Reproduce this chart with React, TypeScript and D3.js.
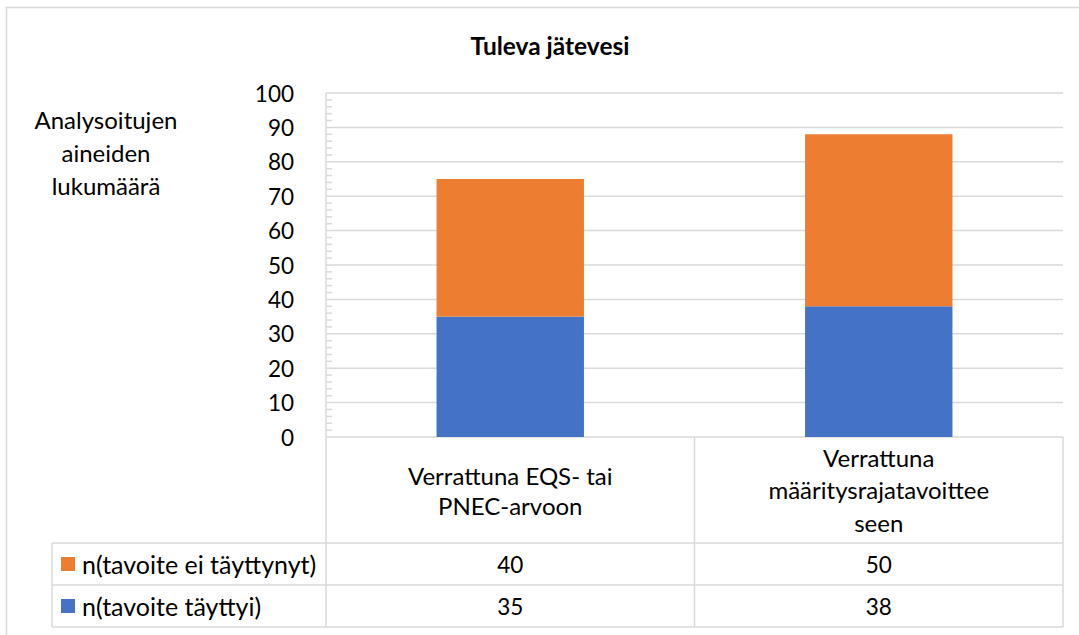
import React from "react";
import * as d3 from "d3";

const categories = ["Verrattuna EQS- tai PNEC-arvoon", "Verrattuna määritysrajatavoitteeseen"];
const categoryLines = [
  ["Verrattuna EQS- tai", "PNEC-arvoon"],
  ["Verrattuna", "määritysrajatavoittee", "seen"],
];
const seriesNames = ["n(tavoite täyttyi)", "n(tavoite ei täyttynyt)"];
const seriesColors = ["#4472C4", "#ED7D31"];
const metValues = [35, 38];
const notMetValues = [40, 50];
const yTicks = [0, 10, 20, 30, 40, 50, 60, 70, 80, 90, 100];
const title = "Tuleva jätevesi";
const yTitleLines = ["Analysoitujen", "aineiden", "lukumäärä"];

const W = 1079;
const H = 635;
const FONT = "Lato, 'Open Sans', sans-serif";
const GRID = "#d9d9d9";
const TXT = 24;
const NUM = 22.5;

export default function App() {
  const plotLeft = 326;
  const plotRight = 1063;
  const plotTop = 93;
  const plotBottom = 437;
  const headerBottom = 543;
  const row1Bottom = 585;
  const row2Bottom = 627;
  const legendLeft = 52;

  const y = d3.scaleLinear().domain([0, 100]).range([plotBottom, plotTop]);
  const x = d3
    .scaleBand<string>()
    .domain(categories)
    .range([plotLeft, plotRight])
    .paddingInner(0.6)
    .paddingOuter(0.3);
  const cell = d3.scaleBand<string>().domain(categories).range([plotLeft, plotRight]).padding(0);

  const stackData = categories.map((c, i) => ({ cat: c, met: metValues[i], notMet: notMetValues[i] }));
  const stacked = d3.stack<any>().keys(["met", "notMet"])(stackData);

  const minorTicks = d3.range(0, 101, 2).filter((v) => v % 10 !== 0);

  const tableRows = [
    { name: seriesNames[1], color: seriesColors[1], values: notMetValues, top: headerBottom, bottom: row1Bottom },
    { name: seriesNames[0], color: seriesColors[0], values: metValues, top: row1Bottom, bottom: row2Bottom },
  ];

  return (
    <svg
      width={W}
      height={H}
      style={{ position: "absolute", left: 0, top: 0, background: "#fff" }}
      fontFamily={FONT}
    >
      <rect x={0} y={0} width={W} height={H} fill="#fff" />
      <rect x={6.5} y={7.5} width={1200} height={800} fill="none" stroke={GRID} strokeWidth={1.5} />

      <text x={550} y={45} textAnchor="middle" dominantBaseline="central" fontSize={24.5} fontWeight="bold" fill="#000">
        {title}
      </text>

      {yTitleLines.map((t, i) => (
        <text key={t} x={106} y={119 + i * 33} textAnchor="middle" dominantBaseline="central" fontSize={TXT} fill="#000">
          {t}
        </text>
      ))}

      {yTicks.map((t) => (
        <line key={t} x1={plotLeft} x2={plotRight} y1={y(t)} y2={y(t)} stroke={GRID} strokeWidth={1.5} />
      ))}
      <line x1={plotLeft} x2={plotLeft} y1={plotTop} y2={row2Bottom} stroke={GRID} strokeWidth={1.5} />
      {minorTicks.map((t) => (
        <line key={t} x1={plotLeft} x2={plotLeft + 6} y1={y(t)} y2={y(t)} stroke={GRID} strokeWidth={1.5} />
      ))}
      {yTicks.map((t) => (
        <text key={t} x={294} y={y(t)} textAnchor="end" dominantBaseline="central" fontSize={NUM} fill="#000">
          {t}
        </text>
      ))}

      {stacked.map((s, si) => (
        <g key={si} fill={seriesColors[si]}>
          {s.map((d: any, i: number) => (
            <rect
              key={i}
              x={x(categories[i])}
              width={x.bandwidth()}
              y={y(d[1])}
              height={y(d[0]) - y(d[1])}
            />
          ))}
        </g>
      ))}

      {categories.map((c) => (
        <line key={c} x1={(cell(c) as number) + cell.bandwidth()} x2={(cell(c) as number) + cell.bandwidth()} y1={plotBottom} y2={row2Bottom} stroke={GRID} strokeWidth={1.5} />
      ))}
      <line x1={legendLeft} x2={legendLeft} y1={headerBottom} y2={row2Bottom} stroke={GRID} strokeWidth={1.5} />
      {[headerBottom, row1Bottom, row2Bottom].map((yy) => (
        <line key={yy} x1={legendLeft} x2={plotRight} y1={yy} y2={yy} stroke={GRID} strokeWidth={1.5} />
      ))}

      {categories.map((c, i) => {
        const lines = categoryLines[i];
        const cx = (cell(c) as number) + cell.bandwidth() / 2;
        const startY = lines.length === 2 ? 475 : 457;
        const lh = lines.length === 2 ? 30 : 32.5;
        return lines.map((l, li) => (
          <text
            key={c + li}
            x={cx}
            y={startY + li * lh}
            textAnchor="middle"
            dominantBaseline="central"
            fontSize={TXT}
            fill="#000"
          >
            {l}
          </text>
        ));
      })}

      {tableRows.map((r) => {
        const cy = (r.top + r.bottom) / 2;
        return (
          <g key={r.name}>
            <rect x={61} y={cy - 7} width={14} height={14} fill={r.color} />
            <text x={82} y={cy} dominantBaseline="central" fontSize={25} fill="#000">
              {r.name}
            </text>
            {categories.map((c, i) => (
              <text
                key={c}
                x={(cell(c) as number) + cell.bandwidth() / 2}
                y={cy}
                textAnchor="middle"
                dominantBaseline="central"
                fontSize={NUM}
                fill="#000"
              >
                {r.values[i]}
              </text>
            ))}
          </g>
        );
      })}
    </svg>
  );
}
